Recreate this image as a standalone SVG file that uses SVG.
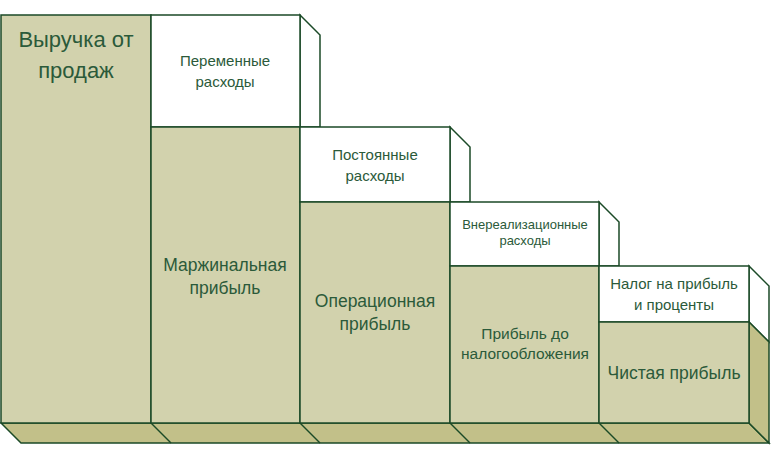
<svg xmlns="http://www.w3.org/2000/svg" width="781" height="455" viewBox="0 0 781 455">
<style>
.f{fill:#d2d2ad;stroke:#1b4a27;stroke-width:1.5}
.w{fill:#ffffff;stroke:#1b4a27;stroke-width:1.5}
.d{fill:#c2c089;stroke:#1b4a27;stroke-width:1.5}
.l{fill:none;stroke:#1b4a27;stroke-width:1.5}
text{font-family:"Liberation Sans",Arial,sans-serif;fill:#2b5a3a;text-anchor:middle}
</style>
<rect width="781" height="455" fill="#ffffff"/>
<g id="bottom-face">
<polygon class="d" points="1,423 749,423 769,443 21,443"/>
</g>
<g id="connectors">
<line class="l" x1="151" y1="423" x2="171" y2="443"/>
<line class="l" x1="300" y1="423" x2="320" y2="443"/>
<line class="l" x1="450" y1="423" x2="470" y2="443"/>
<line class="l" x1="599" y1="423" x2="619" y2="443"/>
</g>
<g id="vyruchka">
<rect class="f" x="1" y="15" width="150" height="408"/>
<text x="76" y="47" font-size="22">Выручка от</text>
<text x="76" y="78" font-size="22">продаж</text>
</g>
<g id="peremennye">
<polygon class="w" points="300,15 320,35 320,127 300,127"/>
<rect class="w" x="151" y="15" width="149" height="112"/>
<text x="225" y="66" font-size="15">Переменные</text>
<text x="225" y="87" font-size="15">расходы</text>
</g>
<g id="marzhinalnaya">
<rect class="f" x="151" y="127" width="149" height="296"/>
<text x="225" y="271" font-size="17.5">Маржинальная</text>
<text x="225" y="294" font-size="17.5">прибыль</text>
</g>
<g id="postoyannye">
<polygon class="w" points="450,127 470,147 470,202 450,202"/>
<rect class="w" x="300" y="127" width="150" height="75"/>
<text x="375" y="160" font-size="15">Постоянные</text>
<text x="375" y="181" font-size="15">расходы</text>
</g>
<g id="operatsionnaya">
<rect class="f" x="300" y="202" width="150" height="221"/>
<text x="375" y="307" font-size="17.5">Операционная</text>
<text x="375" y="330" font-size="17.5">прибыль</text>
</g>
<g id="vnerealizatsionnye">
<polygon class="w" points="599,202 619,222 619,266 599,266"/>
<rect class="w" x="450" y="202" width="149" height="64"/>
<text x="525" y="229" font-size="13">Внереализационные</text>
<text x="525" y="245" font-size="13">расходы</text>
</g>
<g id="do-nalogooblozheniya">
<rect class="f" x="450" y="266" width="149" height="157"/>
<text x="525" y="339" font-size="15.5">Прибыль до</text>
<text x="525" y="359" font-size="15.5">налогообложения</text>
</g>
<g id="nalog">
<polygon class="w" points="749,266 769,286 769,342 749,322"/>
<rect class="w" x="599" y="266" width="150" height="56"/>
<text x="674" y="289" font-size="15">Налог на прибыль</text>
<text x="674" y="310" font-size="15">и проценты</text>
</g>
<g id="chistaya">
<polygon class="d" points="749,322 769,342 769,443 749,423"/>
<rect class="f" x="599" y="322" width="150" height="101"/>
<text x="674" y="379" font-size="17.5">Чистая прибыль</text>
</g>
</svg>
